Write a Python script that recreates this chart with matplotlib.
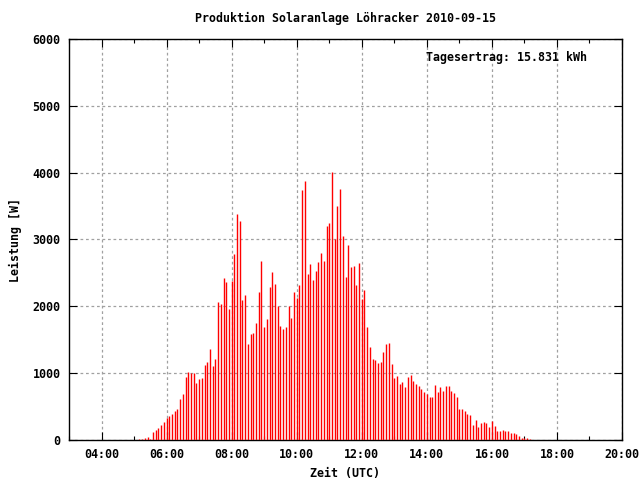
import numpy as np
import matplotlib
matplotlib.use("Agg")
import matplotlib.pyplot as plt
from matplotlib.ticker import MultipleLocator, FuncFormatter

# Leistung alle 5 Minuten ab 05:10 UTC [W]
start_hour = 5 + 10 / 60
step_hour = 5 / 60
power = [
    20, 20, 35, 50, 20, 125, 155, 185, 230, 275, 335, 365, 395, 440, 470, 620, 695, 950, 1020,
    1005, 1005, 855, 915, 930, 1125, 1170, 1365, 1110, 1215, 2070, 2040, 2430, 2370, 1965, 2385,
    2790, 3375, 3270, 2100,
    2175, 1440, 1590, 1605, 1755, 2220, 2685, 1695, 1815, 2295, 2520, 2340, 2010, 1710, 1665,
    1695, 2010, 1830, 2220, 2130, 2325,
    3740, 3875, 2480, 2630, 2390, 2525, 2660, 2795, 2675, 3200, 3245, 4010, 3005, 3500, 3755,
    3050, 2435, 2915, 2585, 2600, 2315,
    2655, 2115, 2250, 1695, 1395, 1215, 1200, 1155, 1170, 1320, 1440, 1455, 1140, 930, 960,
    840, 870, 795, 945, 975, 885,
    845, 815, 770, 725, 695, 650, 650, 830, 725, 800, 740, 815, 815, 740, 710, 650, 470, 470,
    440, 395, 380,
    230, 305, 200, 260, 275, 260, 200, 290, 215, 140, 140, 155, 140, 140, 110, 110, 95, 65,
    35, 35, 35, 20,
]
hours = start_hour + np.arange(len(power)) * step_hour

title = "Produktion Solaranlage Löhracker 2010-09-15"
yield_text = "Tagesertrag: 15.831 kWh"

font = {"family": "DejaVu Sans Mono", "weight": "bold", "size": 8.4}
plt.rcParams["font.family"] = "DejaVu Sans Mono"
plt.rcParams["font.weight"] = "bold"
plt.rcParams["font.size"] = 8.4

fig = plt.figure(figsize=(6.4, 4.8), dpi=100)
ax = fig.add_axes([69 / 640, 40 / 480, 553 / 640, 401 / 480])

ax.vlines(hours, 0, power, colors="#ff0000", linewidth=1.0, zorder=3)

ax.set_xlim(3, 20)
ax.set_ylim(0, 6000)
ax.xaxis.set_major_locator(MultipleLocator(2))
ax.xaxis.set_minor_locator(MultipleLocator(1))
ax.yaxis.set_major_locator(MultipleLocator(1000))
ax.xaxis.set_major_formatter(FuncFormatter(lambda v, p: "%02d:00" % int(round(v))))

ax.grid(True, which="major", color="#a0a0a0", linestyle=(0, (2.2, 2.2)), linewidth=0.9, zorder=1)
ax.tick_params(which="both", direction="in", top=True, right=True, colors="black",
               labelsize=8.4, pad=6)
ax.tick_params(which="major", length=6, width=0.8)
ax.tick_params(which="minor", length=3, width=0.8)
for s in ax.spines.values():
    s.set_linewidth(1.0)
    s.set_color("black")

ax.set_title(title, fontdict=font, pad=12)
ax.set_xlabel("Zeit (UTC)", fontdict=font, labelpad=4)
ax.set_ylabel("Leistung [W]", fontdict=font, labelpad=8)
ax.text(0.937, 0.955, yield_text, transform=ax.transAxes, ha="right", va="center",
        fontdict=font)

fig.savefig("out.png", dpi=100)
